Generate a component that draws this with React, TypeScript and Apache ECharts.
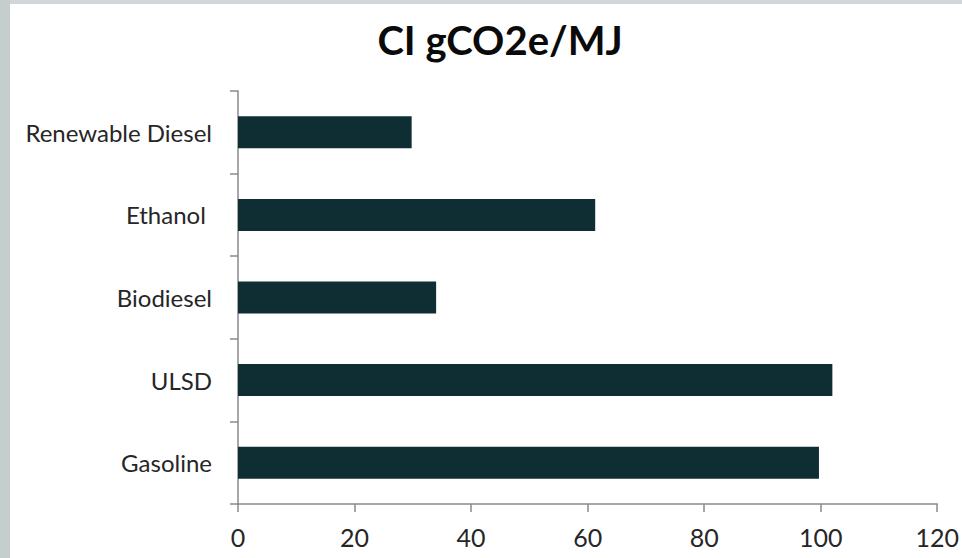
import React, { useEffect, useRef } from "react";
import * as echarts from "echarts";

const categories = ["Renewable Diesel", "Ethanol ", "Biodiesel", "ULSD", "Gasoline"];
const ciValues = [29.8, 61.3, 34.0, 102.0, 99.7];
const xTicks = { min: 0, max: 120, interval: 20 };
const titleText = "CI gCO2e/MJ";

export default function App() {
  const ref = useRef<HTMLDivElement>(null);
  useEffect(() => {
    if (!ref.current) return;
    const chart = echarts.init(ref.current, undefined, { renderer: "svg" });
    chart.setOption({
      animation: false,
      backgroundColor: "#ffffff",
      graphic: [
        { type: "rect", left: 0, top: 0, shape: { width: 962, height: 4 }, style: { fill: "#d2d6d8" }, z: -10, silent: true },
        { type: "rect", left: 0, top: 0, shape: { width: 10, height: 558 }, style: { fill: "#c6cdcd" }, z: -10, silent: true },
      ],
      title: {
        text: titleText,
        left: 495,
        top: 15,
        textAlign: "center",
        textStyle: { fontFamily: "Lato", fontWeight: "bold", fontSize: 40, color: "#0a0a0a" },
      },
      grid: { left: 238, right: 16, top: 91, bottom: 54, containLabel: false },
      xAxis: {
        type: "value",
        min: xTicks.min,
        max: xTicks.max,
        interval: xTicks.interval,
        splitLine: { show: false },
        axisLine: { show: true, lineStyle: { color: "#8a8a8a", width: 1.5 } },
        axisTick: { show: true, length: 8, lineStyle: { color: "#8a8a8a", width: 1.5 } },
        axisLabel: { margin: 20, fontFamily: "Lato", fontSize: 25, color: "#262626" },
      },
      yAxis: {
        type: "category",
        data: categories,
        inverse: true,
        axisLine: { show: true, lineStyle: { color: "#8a8a8a", width: 1.5 } },
        axisTick: { show: true, length: 8, lineStyle: { color: "#8a8a8a", width: 1.5 } },
        axisLabel: { margin: 26, fontFamily: "Lato", fontSize: 24, color: "#262626" },
      },
      series: [
        {
          type: "bar",
          data: ciValues,
          barWidth: 32,
          itemStyle: { color: "#0f2e34" },
        },
      ],
    });
    return () => chart.dispose();
  }, []);
  return <div ref={ref} style={{ position: "fixed", left: 0, top: 0, width: 962, height: 558 }} />;
}
